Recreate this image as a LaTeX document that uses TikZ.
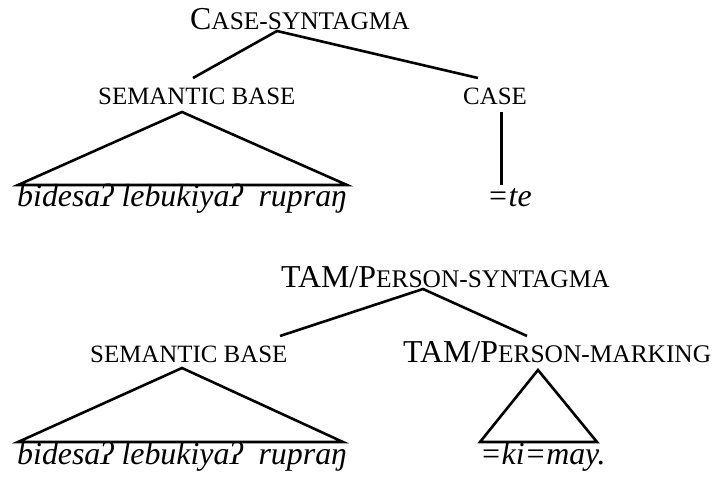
\documentclass[tikz,border=0pt]{standalone}
\usepackage{fontspec}
\setmainfont{Liberation Serif}[
  UprightFont={Liberation Serif},
  ItalicFont={Liberation Serif Italic},
  BoldFont={Liberation Serif Bold}]
\newcommand\bigsz{\fontsize{32}{32}\selectfont}
\newcommand\smc[1]{{\fontsize{25.5}{25.5}\selectfont #1}}
\newcommand\lblsz[1]{{\fontsize{25}{25}\selectfont #1}}
\begin{document}
\begin{tikzpicture}[x=1bp,y=-1bp,
  lbl/.style={anchor=base west,inner sep=0pt,font=\bigsz},
  word/.style={lbl,font=\bigsz\itshape},
  branch/.style={line width=2.6bp,line join=miter}]
\useasboundingbox (0,0) rectangle (717,479);

% --- case syntagma ---
\node[lbl] (cs) at (190,30) {C\smc{ASE-SYNTAGMA}};
\node[lbl] (sb1) at (98,105) {\lblsz{SEMANTIC BASE}};
\node[lbl] (case) at (463,105) {\lblsz{CASE}};
\node[word] (w1) at (17,207) {bidesaʔ lebukiyaʔ\ \ rupraŋ};
\node[word] (te) at (487,207) {=te};

\coordinate (csTop) at (277,31);
\coordinate (sb1End) at (193,78);
\coordinate (caseEnd) at (478,78);
\coordinate (sb1Apex) at (182,112);
\coordinate (sb1L) at (18,185);
\coordinate (sb1R) at (347,185);
\coordinate (caseTop) at (501.5,112);
\coordinate (caseBot) at (501.5,185);

\draw[branch] (sb1End) -- (csTop) -- (caseEnd);
\draw[branch] (sb1L) -- (sb1Apex) -- (sb1R) -- cycle;
\draw[branch] (caseTop) -- (caseBot);

% --- TAM/person syntagma ---
\node[lbl] (tps) at (281,287) {TAM/P\smc{ERSON-SYNTAGMA}};
\node[lbl] (sb2) at (90,362) {\lblsz{SEMANTIC BASE}};
\node[lbl] (tpm) at (403,362) {TAM/P\smc{ERSON-MARKING}};
\node[word] (w2) at (17,464) {bidesaʔ lebukiyaʔ\ \ rupraŋ};
\node[word] (kimay) at (480,464) {=ki=may.};

\coordinate (tpsTop) at (423,289);
\coordinate (sb2End) at (280,336);
\coordinate (tpmEnd) at (527,336);
\coordinate (sb2Apex) at (182,368);
\coordinate (sb2L) at (18,442);
\coordinate (sb2R) at (343,442);
\coordinate (tpmApex) at (538,370);
\coordinate (tpmL) at (480,442);
\coordinate (tpmR) at (597,442);

\draw[branch] (sb2End) -- (tpsTop) -- (tpmEnd);
\draw[branch] (sb2L) -- (sb2Apex) -- (sb2R) -- cycle;
\draw[branch] (tpmL) -- (tpmApex) -- (tpmR) -- cycle;
\end{tikzpicture}
\end{document}
